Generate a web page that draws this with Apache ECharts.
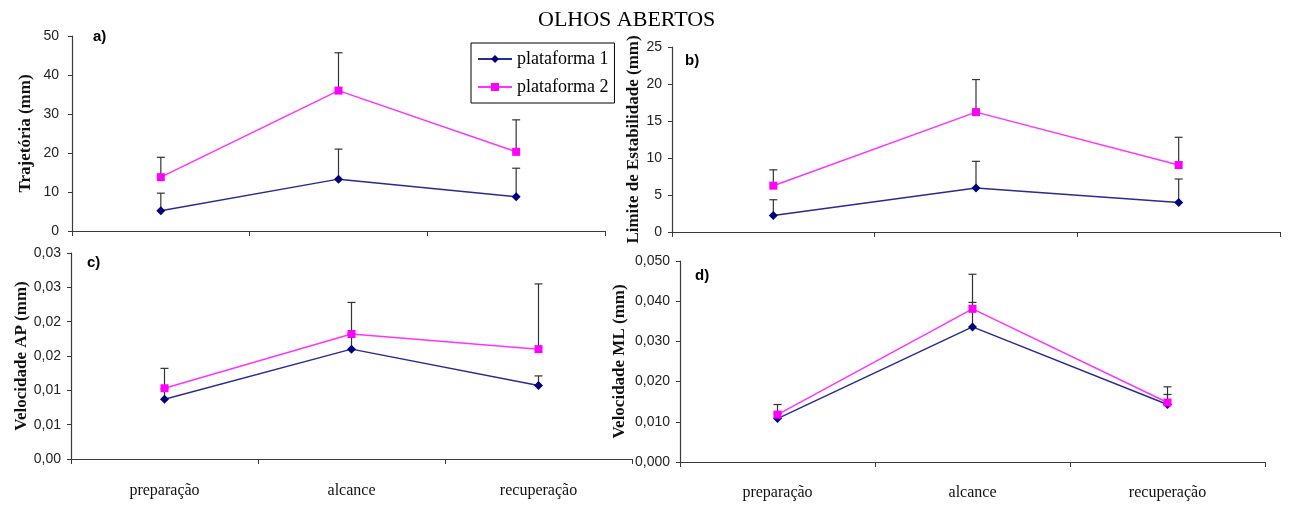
<!DOCTYPE html>
<html>
<head>
<meta charset="utf-8">
<script src="https://cdn.jsdelivr.net/npm/echarts@6/dist/echarts.min.js"></script>
<style>
  html, body { margin: 0; padding: 0; background: #fff; }
  #chart { width: 1291px; height: 505px; }
</style>
</head>
<body>
<div id="chart"></div>
<script>
// Fases da tarefa
const categories = ['preparação', 'alcance', 'recuperação'];
const seriesNames = ['plataforma 1', 'plataforma 2'];

// a) Trajetória (mm): média e desvio padrão
const trajP1 = [5.2, 13.3, 8.8];
const trajP1Sd = [4.5, 7.7, 7.3];
const trajP2 = [13.8, 36.0, 20.3];
const trajP2Sd = [5.1, 9.7, 8.2];

// b) Limite de Estabilidade (mm)
const limP1 = [2.24, 5.95, 4.0];
const limP1Sd = [2.12, 3.6, 3.16];
const limP2 = [6.26, 16.2, 9.05];
const limP2Sd = [2.14, 4.4, 3.75];

// c) Velocidade AP (mm)
const apP1 = [0.0087, 0.0160, 0.0107];
const apP1Sd = [0.0015, 0.0022, 0.0014];
const apP2 = [0.0103, 0.0182, 0.0160];
const apP2Sd = [0.0029, 0.0046, 0.0095];

// d) Velocidade ML (mm)
const mlP1 = [0.0108, 0.0336, 0.0143];
const mlP1Sd = [0.0012, 0.0061, 0.0025];
const mlP2 = [0.0118, 0.0381, 0.0148];
const mlP2Sd = [0.0025, 0.0086, 0.0039];

// Rótulos dos eixos y
const ticksA = ['0', '10', '20', '30', '40', '50'];
const ticksB = ['0', '5', '10', '15', '20', '25'];
const ticksC = ['0,00', '0,01', '0,01', '0,02', '0,02', '0,03', '0,03'];
const ticksD = ['0,000', '0,010', '0,020', '0,030', '0,040', '0,050'];

const C1 = '#000080';
const C1_LINE = '#2a2a90';
const C2 = '#ff00ff';
const C2_LINE = '#ff33ff';
const AXIS = '#3a3a3a';

const panels = [
  { name: 'Trajetória (mm)', p1: trajP1, s1: trajP1Sd, p2: trajP2, s2: trajP2Sd,
    max: 50, interval: 10, ticks: ticksA, nameGap: 38, labelMargin: 13, catMargin: 22, showCat: false,
    grid: { left: 72, right: 686, top: 36, bottom: 274 } },
  { name: 'Limite de Estabilidade (mm)', p1: limP1, s1: limP1Sd, p2: limP2, s2: limP2Sd,
    max: 25, interval: 5, ticks: ticksB, nameGap: 29, labelMargin: 10, catMargin: 22, showCat: false,
    grid: { left: 672, right: 11, top: 47, bottom: 273 } },
  { name: 'Velocidade AP (mm)', p1: apP1, s1: apP1Sd, p2: apP2, s2: apP2Sd,
    max: 0.03, interval: 0.005, ticks: ticksC, nameGap: 41, labelMargin: 10, catMargin: 24, showCat: true,
    grid: { left: 71, right: 659, top: 253, bottom: 46 } },
  { name: 'Velocidade ML (mm)', p1: mlP1, s1: mlP1Sd, p2: mlP2, s2: mlP2Sd,
    max: 0.05, interval: 0.01, ticks: ticksD, nameGap: 52, labelMargin: 10, catMargin: 23, showCat: true,
    grid: { left: 680, right: 26, top: 261, bottom: 43 } }
];

function errorData(means, sds) {
  return means.map((m, i) => [i, m, m + sds[i]]);
}

// Barra de erro: linha vertical da média até média + DP, com traço no topo
function renderError(params, api) {
  const base = api.coord([api.value(0), api.value(1)]);
  const top = api.coord([api.value(0), api.value(2)]);
  const cap = 4;
  const style = { stroke: '#333333', lineWidth: 1.2 };
  return {
    type: 'group',
    children: [
      { type: 'line', shape: { x1: base[0], y1: base[1], x2: top[0], y2: top[1] }, style },
      { type: 'line', shape: { x1: top[0] - cap, y1: top[1], x2: top[0] + cap, y2: top[1] }, style }
    ]
  };
}

const grids = [], xAxes = [], yAxes = [], series = [];
panels.forEach((p, k) => {
  grids.push(Object.assign({ containLabel: false }, p.grid));
  xAxes.push({
    type: 'category', gridIndex: k, data: categories, boundaryGap: true,
    axisLine: { lineStyle: { color: AXIS, width: 1.2 } },
    axisTick: { show: true, length: 5, lineStyle: { color: AXIS } },
    axisLabel: { show: p.showCat, margin: p.catMargin, fontFamily: 'Liberation Serif', fontSize: 16, color: '#111' },
    splitLine: { show: false }
  });
  yAxes.push({
    type: 'value', gridIndex: k, min: 0, max: p.max, interval: p.interval,
    name: p.name, nameLocation: 'middle', nameGap: p.nameGap, nameRotate: 90,
    nameTextStyle: { fontFamily: 'Liberation Serif', fontWeight: 'bold', fontSize: 17, color: '#111',
      verticalAlign: 'bottom' },
    axisLine: { show: true, lineStyle: { color: AXIS, width: 1.2 } },
    axisTick: { show: true, length: 4, lineStyle: { color: AXIS } },
    axisLabel: { margin: p.labelMargin, fontFamily: 'Liberation Sans', fontSize: 14, color: '#222',
      formatter: v => p.ticks[Math.round(v / p.interval)] },
    splitLine: { show: false }
  });
  series.push(
    { type: 'custom', name: 'err1', xAxisIndex: k, yAxisIndex: k, renderItem: renderError,
      data: errorData(p.p1, p.s1), z: 1, silent: true },
    { type: 'custom', name: 'err2', xAxisIndex: k, yAxisIndex: k, renderItem: renderError,
      data: errorData(p.p2, p.s2), z: 1, silent: true },
    { type: 'line', name: seriesNames[0], xAxisIndex: k, yAxisIndex: k, data: p.p1,
      symbol: 'diamond', symbolSize: 9, z: 3,
      lineStyle: { color: C1_LINE, width: 1.5 }, itemStyle: { color: C1 } },
    { type: 'line', name: seriesNames[1], xAxisIndex: k, yAxisIndex: k, data: p.p2,
      symbol: 'rect', symbolSize: 8, z: 3,
      lineStyle: { color: C2_LINE, width: 1.5 }, itemStyle: { color: C2 } }
  );
});

const panelLabel = (text, x, y) => ({
  type: 'text', left: x, top: y,
  style: { text, font: 'bold 15px "Liberation Sans"', fill: '#000' }
});

const chart = echarts.init(document.getElementById('chart'), null, { renderer: 'canvas' });
chart.setOption({
  animation: false,
  backgroundColor: '#ffffff',
  title: {
    text: 'OLHOS ABERTOS', left: 533, top: 4,
    textStyle: { fontFamily: 'Liberation Serif', fontWeight: 'normal', fontSize: 22, color: '#000' }
  },
  legend: {
    data: seriesNames, orient: 'vertical', left: 471, top: 43,
    backgroundColor: '#fff', borderColor: '#000', borderWidth: 1, borderRadius: 0,
    padding: [7, 6, 7, 6], itemGap: 10, itemWidth: 34, itemHeight: 10,
    textStyle: { fontFamily: 'Liberation Serif', fontSize: 18, color: '#000' },
    selectedMode: false
  },
  graphic: [
    panelLabel('a)', 93, 29),
    panelLabel('b)', 685, 53),
    panelLabel('c)', 87, 255),
    panelLabel('d)', 695, 268)
  ],
  grid: grids,
  xAxis: xAxes,
  yAxis: yAxes,
  series: series
});
</script>
</body>
</html>
